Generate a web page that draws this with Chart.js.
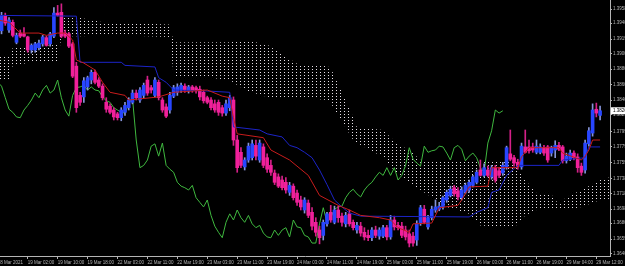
<!DOCTYPE html>
<html>
<head>
<meta charset="utf-8">
<script src="https://cdn.jsdelivr.net/npm/chart.js@4.4.0/dist/chart.umd.min.js"></script>
<style>
  html, body { margin: 0; padding: 0; background: #000; }
  canvas { display: block; }
</style>
</head>
<body>
<canvas id="chart" width="625" height="266"></canvas>
<script>
// time axis: bar index -> label (H1 bars, one label every 8 bars)
const timeLabelBars = [0, 8, 16, 24, 32, 40, 48, 56, 64, 72, 80, 88, 96, 104, 112, 120, 128, 136, 144, 152, 160];
const timeLabels = ['18 Mar 2021', '19 Mar 02:00', '19 Mar 10:00', '19 Mar 18:00', '22 Mar 03:00', '22 Mar 11:00',
    '22 Mar 19:00', '23 Mar 03:00', '23 Mar 11:00', '23 Mar 19:00', '24 Mar 03:00', '24 Mar 11:00', '24 Mar 19:00',
    '25 Mar 03:00', '25 Mar 11:00', '25 Mar 19:00', '26 Mar 03:00', '26 Mar 11:00', '26 Mar 19:00', '29 Mar 04:00',
    '29 Mar 12:00'];

// price axis labels
const priceTicks = [1.3958, 1.3940, 1.3919, 1.3900, 1.3880, 1.3860, 1.3840, 1.3821, 1.3799, 1.3779, 1.3759,
    1.3738, 1.3718, 1.3698, 1.3680, 1.3659, 1.3640];

// candles
const opens = [1.3944, 1.3930, 1.3950, 1.3931, 1.3941, 1.3915, 1.3927, 1.3926, 1.3922, 1.3905, 1.3905, 1.3908, 1.3913, 1.3921, 1.3913, 1.3923,
    1.3953, 1.3954, 1.3927, 1.3926, 1.3913, 1.3884, 1.3846, 1.3844, 1.3857, 1.3866, 1.3876, 1.3866, 1.3858, 1.3837, 1.3832, 1.3827,
    1.3822, 1.3817, 1.3824, 1.3830, 1.3837, 1.3849, 1.3840, 1.3846, 1.3866, 1.3856, 1.3846, 1.3863, 1.3840, 1.3831, 1.3827, 1.3845,
    1.3850, 1.3853, 1.3858, 1.3852, 1.3857, 1.3856, 1.3854, 1.3850, 1.3843, 1.3840, 1.3835, 1.3837, 1.3830, 1.3823, 1.3830, 1.3840,
    1.3788, 1.3772, 1.3753, 1.3762, 1.3765, 1.3781, 1.3762, 1.3779, 1.3765, 1.3755, 1.3745, 1.3740, 1.3736, 1.3733, 1.3720, 1.3728,
    1.3719, 1.3710, 1.3697, 1.3706, 1.3694, 1.3681, 1.3671, 1.3664, 1.3679, 1.3694, 1.3681, 1.3697, 1.3689, 1.3679, 1.3692, 1.3681,
    1.3671, 1.3676, 1.3668, 1.3664, 1.3661, 1.3671, 1.3663, 1.3663, 1.3674, 1.3662, 1.3684, 1.3677, 1.3676, 1.3671, 1.3666, 1.3663,
    1.3658, 1.3680, 1.3698, 1.3675, 1.3687, 1.3697, 1.3698, 1.3701, 1.3710, 1.3716, 1.3726, 1.3722, 1.3713, 1.3720, 1.3723, 1.3729,
    1.3733, 1.3749, 1.3742, 1.3749, 1.3740, 1.3752, 1.3748, 1.3745, 1.3753, 1.3770, 1.3765, 1.3759, 1.3753, 1.3779, 1.3779, 1.3779,
    1.3772, 1.3772, 1.3778, 1.3779, 1.3771, 1.3775, 1.3781, 1.3779, 1.3761, 1.3763, 1.3771, 1.3766, 1.3754, 1.3749, 1.3783, 1.3797,
    1.3828, 1.3820];
const highs = [1.3949, 1.3954, 1.3953, 1.3947, 1.3944, 1.3927, 1.3931, 1.3934, 1.3923, 1.3913, 1.3915, 1.3918, 1.3924, 1.3923, 1.3928, 1.3960,
    1.3963, 1.3965, 1.3931, 1.3928, 1.3915, 1.3889, 1.3850, 1.3869, 1.3871, 1.3879, 1.3879, 1.3869, 1.3861, 1.3843, 1.3835, 1.3830,
    1.3824, 1.3830, 1.3837, 1.3843, 1.3853, 1.3853, 1.3856, 1.3862, 1.3871, 1.3859, 1.3869, 1.3866, 1.3843, 1.3835, 1.3850, 1.3859,
    1.3861, 1.3862, 1.3861, 1.3859, 1.3859, 1.3858, 1.3858, 1.3853, 1.3845, 1.3843, 1.3840, 1.3840, 1.3833, 1.3840, 1.3846, 1.3844,
    1.3794, 1.3778, 1.3765, 1.3784, 1.3788, 1.3788, 1.3788, 1.3783, 1.3770, 1.3762, 1.3749, 1.3744, 1.3741, 1.3739, 1.3733, 1.3731,
    1.3723, 1.3715, 1.3713, 1.3710, 1.3700, 1.3687, 1.3676, 1.3684, 1.3694, 1.3703, 1.3702, 1.3702, 1.3693, 1.3694, 1.3697, 1.3684,
    1.3681, 1.3681, 1.3674, 1.3671, 1.3674, 1.3676, 1.3674, 1.3677, 1.3677, 1.3690, 1.3689, 1.3681, 1.3681, 1.3676, 1.3671, 1.3668,
    1.3683, 1.3703, 1.3703, 1.3690, 1.3702, 1.3710, 1.3707, 1.3715, 1.3723, 1.3728, 1.3729, 1.3726, 1.3727, 1.3732, 1.3736, 1.3742,
    1.3749, 1.3762, 1.3757, 1.3754, 1.3755, 1.3755, 1.3752, 1.3759, 1.3780, 1.3801, 1.3768, 1.3763, 1.3784, 1.3801, 1.3788, 1.3784,
    1.3788, 1.3783, 1.3781, 1.3781, 1.3780, 1.3787, 1.3785, 1.3781, 1.3771, 1.3775, 1.3774, 1.3770, 1.3758, 1.3788, 1.3804, 1.3835,
    1.3836, 1.3832];
const lows = [1.3931, 1.3926, 1.3937, 1.3928, 1.3922, 1.3913, 1.3921, 1.3922, 1.3902, 1.3901, 1.3902, 1.3905, 1.3910, 1.3910, 1.3910, 1.3921,
    1.3949, 1.3921, 1.3921, 1.3908, 1.3869, 1.3824, 1.3833, 1.3837, 1.3853, 1.3861, 1.3861, 1.3856, 1.3840, 1.3824, 1.3822, 1.3814,
    1.3814, 1.3813, 1.3820, 1.3827, 1.3835, 1.3840, 1.3837, 1.3843, 1.3846, 1.3849, 1.3844, 1.3840, 1.3824, 1.3817, 1.3823, 1.3843,
    1.3846, 1.3850, 1.3850, 1.3849, 1.3850, 1.3849, 1.3840, 1.3836, 1.3835, 1.3827, 1.3824, 1.3820, 1.3819, 1.3820, 1.3826, 1.3781,
    1.3746, 1.3752, 1.3749, 1.3759, 1.3762, 1.3762, 1.3759, 1.3752, 1.3746, 1.3742, 1.3730, 1.3726, 1.3723, 1.3719, 1.3716, 1.3710,
    1.3703, 1.3697, 1.3693, 1.3687, 1.3671, 1.3663, 1.3653, 1.3658, 1.3676, 1.3681, 1.3679, 1.3681, 1.3676, 1.3675, 1.3676, 1.3671,
    1.3667, 1.3663, 1.3658, 1.3657, 1.3657, 1.3661, 1.3659, 1.3661, 1.3658, 1.3659, 1.3671, 1.3671, 1.3661, 1.3658, 1.3649, 1.3650,
    1.3651, 1.3677, 1.3679, 1.3672, 1.3684, 1.3694, 1.3696, 1.3698, 1.3707, 1.3714, 1.3715, 1.3710, 1.3710, 1.3718, 1.3720, 1.3727,
    1.3731, 1.3741, 1.3740, 1.3740, 1.3737, 1.3733, 1.3739, 1.3742, 1.3750, 1.3761, 1.3754, 1.3750, 1.3750, 1.3771, 1.3771, 1.3772,
    1.3770, 1.3770, 1.3768, 1.3759, 1.3767, 1.3765, 1.3774, 1.3758, 1.3758, 1.3761, 1.3762, 1.3746, 1.3742, 1.3745, 1.3780, 1.3793,
    1.3818, 1.3814];
const closes = [1.3934, 1.3950, 1.3940, 1.3944, 1.3924, 1.3924, 1.3923, 1.3923, 1.3905, 1.3911, 1.3913, 1.3914, 1.3922, 1.3911, 1.3926, 1.3953,
    1.3950, 1.3923, 1.3923, 1.3910, 1.3871, 1.3830, 1.3837, 1.3865, 1.3869, 1.3876, 1.3863, 1.3858, 1.3843, 1.3828, 1.3824, 1.3818,
    1.3817, 1.3827, 1.3833, 1.3840, 1.3849, 1.3843, 1.3853, 1.3859, 1.3849, 1.3853, 1.3866, 1.3843, 1.3827, 1.3819, 1.3846, 1.3856,
    1.3857, 1.3859, 1.3853, 1.3857, 1.3853, 1.3852, 1.3844, 1.3839, 1.3837, 1.3830, 1.3827, 1.3824, 1.3823, 1.3835, 1.3843, 1.3788,
    1.3752, 1.3755, 1.3762, 1.3780, 1.3783, 1.3767, 1.3784, 1.3755, 1.3750, 1.3746, 1.3733, 1.3728, 1.3726, 1.3723, 1.3729, 1.3713,
    1.3707, 1.3701, 1.3710, 1.3690, 1.3676, 1.3668, 1.3661, 1.3681, 1.3692, 1.3684, 1.3697, 1.3687, 1.3681, 1.3690, 1.3679, 1.3674,
    1.3677, 1.3667, 1.3662, 1.3661, 1.3671, 1.3664, 1.3671, 1.3674, 1.3662, 1.3684, 1.3675, 1.3674, 1.3664, 1.3662, 1.3654, 1.3654,
    1.3679, 1.3700, 1.3681, 1.3687, 1.3698, 1.3701, 1.3702, 1.3713, 1.3720, 1.3724, 1.3718, 1.3714, 1.3723, 1.3729, 1.3733, 1.3740,
    1.3746, 1.3742, 1.3752, 1.3742, 1.3752, 1.3736, 1.3742, 1.3755, 1.3778, 1.3763, 1.3758, 1.3754, 1.3780, 1.3772, 1.3774, 1.3775,
    1.3780, 1.3779, 1.3771, 1.3762, 1.3778, 1.3781, 1.3776, 1.3761, 1.3767, 1.3771, 1.3765, 1.3752, 1.3746, 1.3784, 1.3800, 1.3827,
    1.3823, 1.3826];

// ichimoku lines (bar index, price)
const tenkanBars = [0, 3, 6, 11, 13, 16, 18, 20, 21, 23, 26, 28, 30, 34, 35, 43, 47, 56, 60, 62, 63, 64, 71, 73, 78, 83, 86, 91,
    94, 97, 102, 105, 107, 110, 111, 116, 118, 123, 124, 126, 131, 132, 139, 140, 142, 150, 151, 156, 157, 158, 159, 161];
const tenkan = [1.3944, 1.3941, 1.3927, 1.3927, 1.3924, 1.3927, 1.3927, 1.3918, 1.3892, 1.3888, 1.3879, 1.3863, 1.3850, 1.3846,
    1.3840, 1.3844, 1.3850, 1.3853, 1.3845, 1.3843, 1.3817, 1.3796, 1.3791, 1.3775, 1.3762, 1.3742, 1.3716, 1.3703, 1.3697, 1.3690,
    1.3687, 1.3684, 1.3674, 1.3668, 1.3679, 1.3680, 1.3700, 1.3703, 1.3710, 1.3727, 1.3728, 1.3752, 1.3752, 1.3766, 1.3778, 1.3778,
    1.3771, 1.3762, 1.3767, 1.3775, 1.3788, 1.3788];
const kijunBars = [0, 21, 22, 33, 34, 42, 43, 45, 47, 55, 62, 63, 70, 72, 76, 78, 80, 82, 84, 86, 88, 90, 92, 94, 97, 126, 128, 131,
    132, 134, 136, 139, 150, 151, 157, 158, 161];
const kijun = [1.3950, 1.3949, 1.3889, 1.3889, 1.3885, 1.3883, 1.3869, 1.3863, 1.3853, 1.3852, 1.3850, 1.3805, 1.3801, 1.3796,
    1.3792, 1.3781, 1.3778, 1.3772, 1.3765, 1.3749, 1.3730, 1.3710, 1.3701, 1.3693, 1.3689, 1.3688, 1.3694, 1.3700, 1.3720, 1.3723,
    1.3742, 1.3755, 1.3755, 1.3762, 1.3765, 1.3779, 1.3779];
const cloudBars = [0, 3, 4, 8, 12, 16, 17, 22, 28, 34, 40, 46, 47, 55, 62, 66, 72, 80, 88, 89, 95, 96, 103, 107, 110, 113, 120, 126,
    129, 138, 141, 144, 148, 150, 152, 156, 161, 164];
const spanA = [1.3896, 1.3896, 1.3908, 1.3909, 1.3910, 1.3912, 1.3950, 1.3947, 1.3941, 1.3941, 1.3939, 1.3938, 1.3915, 1.3915,
    1.3915, 1.3918, 1.3912, 1.3887, 1.3884, 1.3882, 1.3818, 1.3805, 1.3801, 1.3782, 1.3775, 1.3762, 1.3762, 1.3762, 1.3761, 1.3759,
    1.3736, 1.3719, 1.3717, 1.3704, 1.3714, 1.3723, 1.3736, 1.3740];
const spanB = [1.3866, 1.3866, 1.3885, 1.3888, 1.3889, 1.3888, 1.3923, 1.3923, 1.3924, 1.3924, 1.3923, 1.3922, 1.3870, 1.3870,
    1.3866, 1.3853, 1.3844, 1.3844, 1.3840, 1.3836, 1.3788, 1.3784, 1.3766, 1.3742, 1.3733, 1.3723, 1.3701, 1.3692, 1.3677, 1.3674,
    1.3690, 1.3697, 1.3697, 1.3697, 1.3697, 1.3701, 1.3710, 1.3712];

const chikouShift = 26;

const axisColor = '#b4b4b4';
const tickFont = { family: 'Liberation Sans', size: 4.5 };

// dotted fill like the MT4 cloud
const makeDots = (color) => {
    const c = document.createElement('canvas');
    c.width = 4;
    c.height = 3;
    const g = c.getContext('2d');
    g.fillStyle = color;
    g.fillRect(0, 0, 1, 1);
    return g.createPattern(c, 'repeat');
}

const pts = (bars, vals) => bars.map((b, k) => ({ x: b, y: vals[k] }));

const bull = closes.map((c, i) => c >= opens[i]);
const bodyColors = bull.map(b => b ? '#2846ff' : '#f0209a');
const wickColors = bull.map(b => b ? '#8593d8' : '#d42088');

// white box with the last price on the right axis
const lastPriceBox = {
    id: 'lastPriceBox',
    afterDraw(chart) {
        const { ctx, scales: { y } } = chart;
        const price = closes[closes.length - 1];
        const py = y.getPixelForValue(price);
        ctx.save();
        ctx.fillStyle = '#ffffff';
        ctx.fillRect(y.left + 1, py - 3.5, chart.width - y.left, 7);
        ctx.fillStyle = '#000000';
        ctx.font = '4.5px "Liberation Sans"';
        ctx.textBaseline = 'middle';
        ctx.fillText(price.toFixed(4), y.left + 3, py);
        ctx.restore();
    }
};

const ctx = document.getElementById('chart');
new Chart(ctx, {
    type: 'bar',
    data: {
        datasets: [
            {
                type: 'line', label: 'Senkou Span A', data: pts(cloudBars, spanA),
                borderWidth: 0, borderColor: 'rgba(0,0,0,0)', pointRadius: 0, fill: false, order: 10
            },
            {
                type: 'line', label: 'Senkou Span B', data: pts(cloudBars, spanB),
                borderWidth: 0, borderColor: 'rgba(0,0,0,0)', pointRadius: 0, order: 10,
                fill: { target: '-1', above: makeDots('#e8dccc'), below: makeDots('#e6e0e8') }
            },
            {
                type: 'line', label: 'Chikou Span',
                data: closes.slice(chikouShift).map((c, k) => ({ x: k, y: c })),
                borderColor: '#3fb83f', borderWidth: 1, pointRadius: 0, order: 4
            },
            {
                type: 'bar', label: 'wicks', grouped: false, barThickness: 1, order: 3,
                data: lows.map((l, i) => ({ x: i, y: [l, highs[i]] })),
                backgroundColor: wickColors
            },
            {
                type: 'bar', label: 'bodies', grouped: false, barThickness: 3, minBarLength: 1, order: 2,
                data: opens.map((o, i) => ({ x: i, y: [o, closes[i]] })),
                backgroundColor: bodyColors
            },
            {
                type: 'line', label: 'Kijun-sen', data: pts(kijunBars, kijun),
                borderColor: '#1c24c8', borderWidth: 1, pointRadius: 0, order: 1
            },
            {
                type: 'line', label: 'Tenkan-sen', data: pts(tenkanBars, tenkan),
                borderColor: '#c81c1c', borderWidth: 1, pointRadius: 0, order: 0
            }
        ]
    },
    options: {
        responsive: false,
        animation: false,
        layout: { padding: 0 },
        plugins: { legend: { display: false }, tooltip: { enabled: false } },
        scales: {
            x: {
                type: 'linear',
                offset: false,
                min: 0.59,
                max: 163.65,
                grid: { display: true, offset: false, drawOnChartArea: false, drawTicks: true, tickLength: 3, color: axisColor },
                border: { display: true, color: axisColor },
                ticks: {
                    color: axisColor, font: tickFont, align: 'start', maxRotation: 0, autoSkip: false, padding: 1,
                    callback: (v) => timeLabels[timeLabelBars.indexOf(v)]
                },
                afterBuildTicks: (scale) => { scale.ticks = timeLabelBars.map(v => ({ value: v })); },
                afterFit: (scale) => { scale.height = 10; scale.paddingLeft = 0; scale.paddingRight = 0; }
            },
            y: {
                position: 'right',
                min: 1.36372,
                max: 1.3970,
                grid: { display: true, drawOnChartArea: false, drawTicks: true, tickLength: 2, color: axisColor },
                border: { display: true, color: axisColor },
                ticks: {
                    color: axisColor, font: tickFont, padding: 1, autoSkip: false,
                    callback: (v) => v.toFixed(4)
                },
                afterBuildTicks: (scale) => { scale.ticks = priceTicks.map(v => ({ value: v })); },
                afterFit: (scale) => { scale.width = 15; scale.paddingTop = 0; scale.paddingBottom = 0; }
            }
        }
    },
    plugins: [lastPriceBox]
});
</script>
</body>
</html>
